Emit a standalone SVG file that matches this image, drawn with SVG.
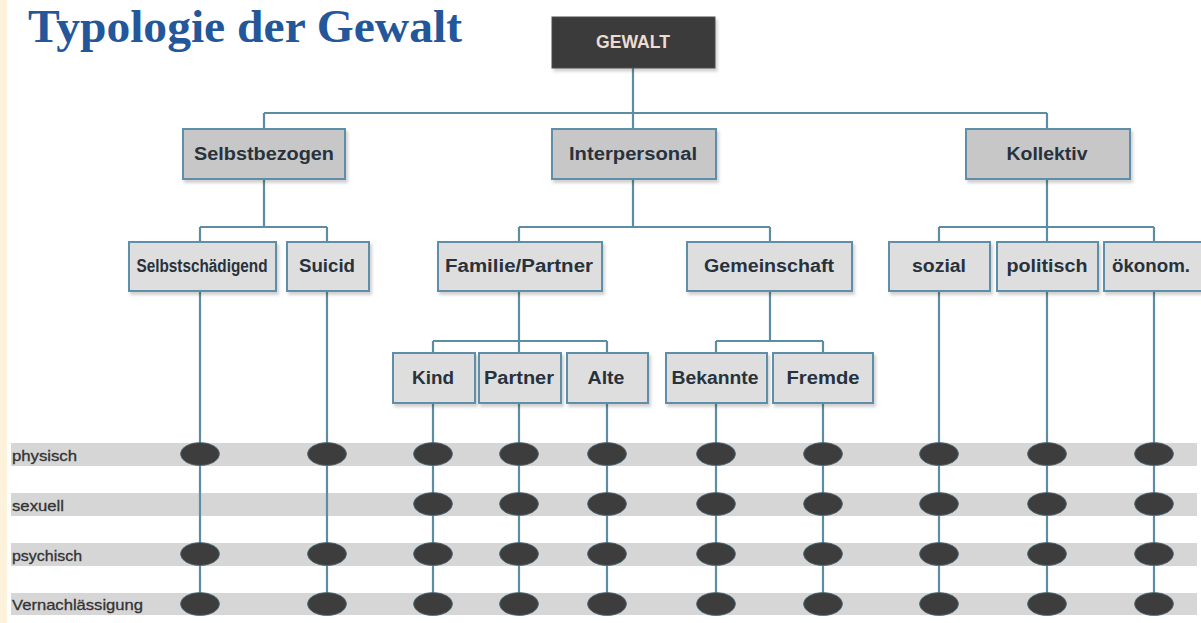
<svg xmlns="http://www.w3.org/2000/svg" width="1201" height="623" viewBox="0 0 1201 623">
<defs>
<filter id="sh" x="-10%" y="-10%" width="130%" height="140%">
<feDropShadow dx="2" dy="3" stdDeviation="1.5" flood-color="#000" flood-opacity="0.18"/>
</filter>
</defs>
<style>
.bg{fill:#ffffff}
.cream{fill:#fdf2dc}
.title{font-family:"Liberation Serif","Times New Roman",serif;font-weight:bold;font-size:47px;fill:#24569a}
.band{fill:#d6d6d6}
.lbl{font-family:"Liberation Sans",Arial,sans-serif;font-size:15px;fill:#333333;stroke:#333333;stroke-width:0.3}
.n1{fill:#c7c7c7;stroke:#5f8ea8;stroke-width:2;filter:url(#sh)}
.n2{fill:#dedede;stroke:#5f8ea8;stroke-width:2;filter:url(#sh)}
.top{fill:#3b3b3b;stroke:#4a4a4a;stroke-width:1;filter:url(#sh)}
.t{font-family:"Liberation Sans",Arial,sans-serif;font-weight:bold;font-size:18px;fill:#28323c;text-anchor:middle}
.tw{font-family:"Liberation Sans",Arial,sans-serif;font-weight:bold;font-size:18px;fill:#eedcd2;text-anchor:middle}
.c{fill:none;stroke:#5d8ca5;stroke-width:2.2}
.dot{fill:#3d3d3d;stroke:#4f6e80;stroke-width:0.8}
</style>
<rect class="bg" x="0" y="0" width="1201" height="623"/>
<rect class="cream" x="0" y="0" width="7" height="623"/>
<text class="title" x="28" y="42" textLength="434" lengthAdjust="spacingAndGlyphs">Typologie der Gewalt</text>

<g id="bands">
<rect class="band" x="11" y="443" width="1186" height="23"/>
<rect class="band" x="11" y="493" width="1186" height="23"/>
<rect class="band" x="11" y="543" width="1186" height="23"/>
<rect class="band" x="11" y="593" width="1186" height="22"/>
<text class="lbl" x="12" y="461" textLength="65" lengthAdjust="spacingAndGlyphs">physisch</text>
<text class="lbl" x="12" y="511" textLength="52" lengthAdjust="spacingAndGlyphs">sexuell</text>
<text class="lbl" x="12" y="561" textLength="70" lengthAdjust="spacingAndGlyphs">psychisch</text>
<text class="lbl" x="12" y="610" textLength="131" lengthAdjust="spacingAndGlyphs">Vernachlässigung</text>
</g>

<g id="connectors">
<path class="c" d="M633 67V113M264 113H1047M264 113V129M633 113V129M1047 113V129"/>
<path class="c" d="M264 179V227M200 227H327M200 227V241M327 227V241"/>
<path class="c" d="M633 179V227M519 227H770M519 227V241M770 227V241"/>
<path class="c" d="M1047 179V227M939 227H1154M939 227V241M1047 227V241M1154 227V241"/>
<path class="c" d="M519 291V341M433 341H607M433 341V353M519 341V353M607 341V353"/>
<path class="c" d="M770 291V341M716 341H823M716 341V353M823 341V353"/>
<path class="c" d="M200 291V604M327 291V604M939 291V604M1047 291V604M1154 291V604"/>
<path class="c" d="M433 403V604M519 403V604M607 403V604M716 403V604M823 403V604"/>
</g>

<g id="dots">
<ellipse class="dot" cx="200" cy="454" rx="19.5" ry="11.5"/>
<ellipse class="dot" cx="200" cy="554" rx="19.5" ry="11.5"/>
<ellipse class="dot" cx="200" cy="604" rx="19.5" ry="11.5"/>
<ellipse class="dot" cx="327" cy="454" rx="19.5" ry="11.5"/>
<ellipse class="dot" cx="327" cy="554" rx="19.5" ry="11.5"/>
<ellipse class="dot" cx="327" cy="604" rx="19.5" ry="11.5"/>
<g>
<ellipse class="dot" cx="433" cy="454" rx="19.5" ry="11.5"/><ellipse class="dot" cx="433" cy="504" rx="19.5" ry="11.5"/><ellipse class="dot" cx="433" cy="554" rx="19.5" ry="11.5"/><ellipse class="dot" cx="433" cy="604" rx="19.5" ry="11.5"/>
<ellipse class="dot" cx="519" cy="454" rx="19.5" ry="11.5"/><ellipse class="dot" cx="519" cy="504" rx="19.5" ry="11.5"/><ellipse class="dot" cx="519" cy="554" rx="19.5" ry="11.5"/><ellipse class="dot" cx="519" cy="604" rx="19.5" ry="11.5"/>
<ellipse class="dot" cx="607" cy="454" rx="19.5" ry="11.5"/><ellipse class="dot" cx="607" cy="504" rx="19.5" ry="11.5"/><ellipse class="dot" cx="607" cy="554" rx="19.5" ry="11.5"/><ellipse class="dot" cx="607" cy="604" rx="19.5" ry="11.5"/>
<ellipse class="dot" cx="716" cy="454" rx="19.5" ry="11.5"/><ellipse class="dot" cx="716" cy="504" rx="19.5" ry="11.5"/><ellipse class="dot" cx="716" cy="554" rx="19.5" ry="11.5"/><ellipse class="dot" cx="716" cy="604" rx="19.5" ry="11.5"/>
<ellipse class="dot" cx="823" cy="454" rx="19.5" ry="11.5"/><ellipse class="dot" cx="823" cy="504" rx="19.5" ry="11.5"/><ellipse class="dot" cx="823" cy="554" rx="19.5" ry="11.5"/><ellipse class="dot" cx="823" cy="604" rx="19.5" ry="11.5"/>
<ellipse class="dot" cx="939" cy="454" rx="19.5" ry="11.5"/><ellipse class="dot" cx="939" cy="504" rx="19.5" ry="11.5"/><ellipse class="dot" cx="939" cy="554" rx="19.5" ry="11.5"/><ellipse class="dot" cx="939" cy="604" rx="19.5" ry="11.5"/>
<ellipse class="dot" cx="1047" cy="454" rx="19.5" ry="11.5"/><ellipse class="dot" cx="1047" cy="504" rx="19.5" ry="11.5"/><ellipse class="dot" cx="1047" cy="554" rx="19.5" ry="11.5"/><ellipse class="dot" cx="1047" cy="604" rx="19.5" ry="11.5"/>
<ellipse class="dot" cx="1154" cy="454" rx="19.5" ry="11.5"/><ellipse class="dot" cx="1154" cy="504" rx="19.5" ry="11.5"/><ellipse class="dot" cx="1154" cy="554" rx="19.5" ry="11.5"/><ellipse class="dot" cx="1154" cy="604" rx="19.5" ry="11.5"/>
</g>
</g>

<g id="gewalt"><rect class="top" x="552" y="17" width="163" height="51"/><text class="tw" x="633" y="48" textLength="74" lengthAdjust="spacingAndGlyphs">GEWALT</text></g>

<g id="selbstbezogen"><rect class="n1" x="183" y="129" width="162" height="50"/><text class="t" x="264" y="160" textLength="140" lengthAdjust="spacingAndGlyphs">Selbstbezogen</text></g>
<g id="interpersonal"><rect class="n1" x="552" y="129" width="164" height="50"/><text class="t" x="633" y="160" textLength="128" lengthAdjust="spacingAndGlyphs">Interpersonal</text></g>
<g id="kollektiv"><rect class="n1" x="966" y="129" width="164" height="50"/><text class="t" x="1047" y="160" textLength="81" lengthAdjust="spacingAndGlyphs">Kollektiv</text></g>

<g id="selbstschaedigend"><rect class="n2" x="129" y="242" width="147" height="49"/><text class="t" x="202" y="272" textLength="131" lengthAdjust="spacingAndGlyphs">Selbstschädigend</text></g>
<g id="suicid"><rect class="n2" x="287" y="242" width="82" height="49"/><text class="t" x="327" y="272" textLength="56" lengthAdjust="spacingAndGlyphs">Suicid</text></g>
<g id="familie"><rect class="n2" x="438" y="242" width="164" height="49"/><text class="t" x="519" y="272" textLength="148" lengthAdjust="spacingAndGlyphs">Familie/Partner</text></g>
<g id="gemeinschaft"><rect class="n2" x="687" y="242" width="165" height="49"/><text class="t" x="769" y="272" textLength="130" lengthAdjust="spacingAndGlyphs">Gemeinschaft</text></g>
<g id="sozial"><rect class="n2" x="889" y="242" width="101" height="49"/><text class="t" x="939" y="272" textLength="54" lengthAdjust="spacingAndGlyphs">sozial</text></g>
<g id="politisch"><rect class="n2" x="997" y="242" width="101" height="49"/><text class="t" x="1047" y="272" textLength="81" lengthAdjust="spacingAndGlyphs">politisch</text></g>
<g id="oekonom"><rect class="n2" x="1104" y="242" width="100" height="49"/><text class="t" x="1151" y="272" textLength="78" lengthAdjust="spacingAndGlyphs">ökonom.</text></g>

<g id="kind"><rect class="n2" x="393" y="353" width="82" height="50"/><text class="t" x="433" y="384" textLength="42" lengthAdjust="spacingAndGlyphs">Kind</text></g>
<g id="partner"><rect class="n2" x="479" y="353" width="82" height="50"/><text class="t" x="519" y="384" textLength="70" lengthAdjust="spacingAndGlyphs">Partner</text></g>
<g id="alte"><rect class="n2" x="567" y="353" width="81" height="50"/><text class="t" x="606" y="384" textLength="37" lengthAdjust="spacingAndGlyphs">Alte</text></g>
<g id="bekannte"><rect class="n2" x="666" y="353" width="101" height="50"/><text class="t" x="715" y="384" textLength="87" lengthAdjust="spacingAndGlyphs">Bekannte</text></g>
<g id="fremde"><rect class="n2" x="773" y="353" width="100" height="50"/><text class="t" x="823" y="384" textLength="73" lengthAdjust="spacingAndGlyphs">Fremde</text></g>
</svg>
